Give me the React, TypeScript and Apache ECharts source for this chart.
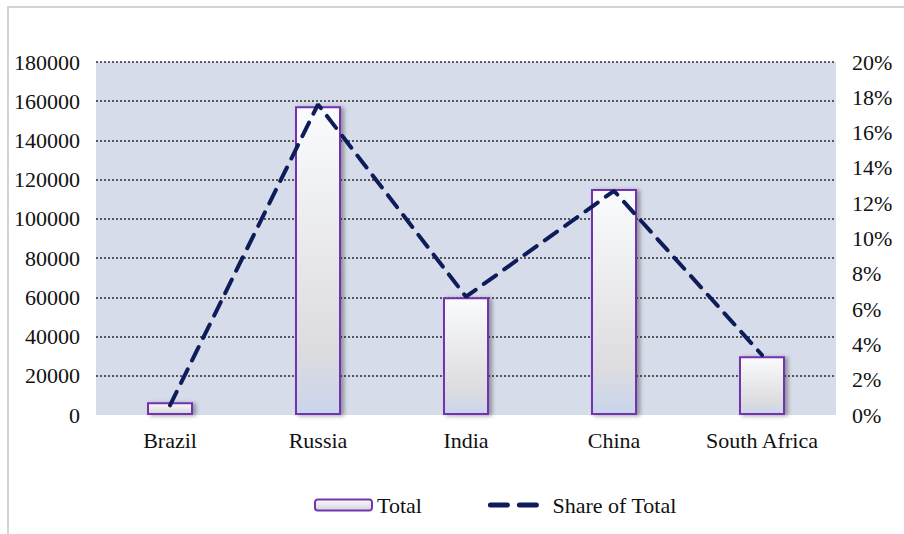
import React, { useEffect, useRef } from "react";
import * as echarts from "echarts";

const categories = ["Brazil", "Russia", "India", "China", "South Africa"];
const totalValues = [6500, 157500, 60000, 115200, 30000];
const shareValues = [0.55, 17.6, 6.7, 12.7, 3.4];
const leftTicks = { min: 0, max: 180000, interval: 20000 };
const rightTicks = { min: 0, max: 20, interval: 2 };

const FONT = "'Liberation Serif', 'Times New Roman', serif";

export default function App() {
  const ref = useRef<HTMLDivElement>(null);
  useEffect(() => {
    if (!ref.current) return;
    const chart = echarts.init(ref.current, undefined, { renderer: "svg" });
    chart.setOption({
      animation: false,
      backgroundColor: "#ffffff",
      graphic: [
        {
          type: "rect",
          shape: { x: 8, y: 7, width: 1000, height: 600 },
          style: { fill: "none", stroke: "#d4d4d4", lineWidth: 2 },
          silent: true,
          z: -1,
        },
      ],
      grid: {
        left: 96,
        right: 68,
        top: 62,
        bottom: 119,
        show: true,
        backgroundColor: "#D6DCE9",
        borderWidth: 0,
      },
      legend: {
        left: 309,
        top: 489,
        itemWidth: 57,
        itemHeight: 11,
        itemGap: 66,
        textStyle: { fontFamily: FONT, fontSize: 22, color: "#111" },
        data: [
          { name: "Total" },
          {
            name: "Share of Total",
            itemStyle: { opacity: 0 },
            lineStyle: { type: [17, 12], width: 5 },
          },
        ],
      },
      xAxis: {
        type: "category",
        data: categories,
        axisLine: { show: false },
        axisTick: { show: false },
        axisLabel: { fontFamily: FONT, fontSize: 22, color: "#111", margin: 14 },
      },
      yAxis: [
        {
          type: "value",
          min: leftTicks.min,
          max: leftTicks.max,
          interval: leftTicks.interval,
          axisLine: { show: false },
          axisTick: { show: false },
          axisLabel: {
            fontFamily: FONT,
            fontSize: 22,
            color: "#111",
            margin: 16,
            formatter: (v: number) => String(v),
          },
          splitLine: {
            show: true,
            showMinLine: false,
            lineStyle: { color: "#2a2a2a", type: [2, 2], width: 1.5 },
          },
        },
        {
          type: "value",
          min: rightTicks.min,
          max: rightTicks.max,
          interval: rightTicks.interval,
          position: "right",
          axisLine: { show: false },
          axisTick: { show: false },
          axisLabel: {
            fontFamily: FONT,
            fontSize: 22,
            color: "#111",
            margin: 16,
            formatter: (v: number) => `${v}%`,
          },
          splitLine: { show: false },
        },
      ],
      series: [
        {
          name: "Total",
          type: "bar",
          data: totalValues,
          barWidth: 46,
          yAxisIndex: 0,
          itemStyle: {
            color: new echarts.graphic.LinearGradient(0, 0, 0, 1, [
              { offset: 0, color: "#FAFBFC" },
              { offset: 0.8, color: "#DCDCE0" },
              { offset: 1, color: "#C9D4EC" },
            ]),
            borderColor: "#7433B0",
            borderWidth: 2,
            shadowColor: "rgba(0,0,0,0.35)",
            shadowBlur: 4,
            shadowOffsetX: 3,
            shadowOffsetY: 1,
          },
        },
        {
          name: "Share of Total",
          type: "line",
          data: shareValues,
          yAxisIndex: 1,
          symbol: "none",
          z: 5,
          lineStyle: {
            color: "#0E1C5A",
            width: 4,
            type: [15, 10],
            cap: "round",
          },
          itemStyle: { color: "#0E1C5A" },
        },
      ],
    });
    return () => chart.dispose();
  }, []);
  return (
    <div
      ref={ref}
      style={{ position: "fixed", left: 0, top: 0, width: 904, height: 534 }}
    />
  );
}
